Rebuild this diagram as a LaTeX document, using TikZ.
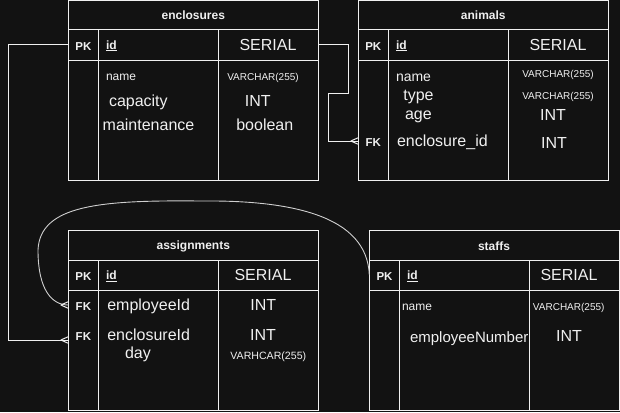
\documentclass[tikz,border=0pt]{standalone}
\usepackage{fontspec}
\setmainfont{Liberation Sans}
\usetikzlibrary{calc}
\definecolor{bg}{HTML}{121212}
\definecolor{fg}{HTML}{F0F0F0}
\tikzset{
  cell/.style={draw=fg, line width=1pt, fill=bg, minimum width=250pt, inner sep=0pt, outer sep=0pt, anchor=north west},
  lbl/.style={text=fg, inner sep=0pt, outer sep=0pt},
  ttl/.style={lbl, anchor=base, font=\bfseries\fontsize{12}{14}\selectfont},
  key/.style={lbl, anchor=base, font=\bfseries\fontsize{11.5}{14}\selectfont},
  pkid/.style={lbl, anchor=base west, font=\bfseries\fontsize{12}{14}\selectfont},
  fld/.style={lbl, anchor=base west, font=\fontsize{#1}{18}\selectfont},
  typ/.style={lbl, anchor=base, font=\fontsize{#1}{18}\selectfont},
  conn/.style={draw=fg, line width=1pt},
  curv/.style={draw=fg!85!bg, line width=0.9pt},
  crowfoot/.pic={\draw[conn] (-7.5,0) -- (0,-3.3) (-7.5,0) -- (0,3.3);}
}
\begin{document}
\begin{tikzpicture}[x=1pt, y=-1pt]
\useasboundingbox (0,0) rectangle (620,412);
\fill[bg] (0,0) rectangle (620,412);

% ---- enclosures ----
\node[cell, minimum height=29.2pt] (encT) at (68.3,0.8) {};
\node[cell, minimum height=30pt] (encP) at (68.3,30) {};
\node[cell, minimum height=120pt] (encB) at (68.3,60) {};
\draw[conn] (98.5,30) -- (98.5,180) (218.5,30) -- (218.5,180);
\node[ttl] (e0) at (193.3,19.5) {enclosures};
\node[key] (e1) at (83.4,50) {PK};
\node[pkid] (e2) at (106,49) {\underline{id}};
\node[typ=16] (e3) at (268,50) {SERIAL};
\node[fld=12] (e4) at (106,80) {name};
\node[typ=10] (e5) at (263,80) {VARCHAR(255)};
\node[fld=16] (e6) at (109,106) {capacity};
\node[typ=16] (e7) at (257.8,106.7) {INT};
\node[fld=16] (e8) at (102.7,130) {maintenance};
\node[typ=16] (e9) at (264.8,130) {boolean};

% ---- animals ----
\node[cell, minimum height=29.2pt] (anT) at (358.3,0.8) {};
\node[cell, minimum height=30pt] (anP) at (358.3,30) {};
\node[cell, minimum height=120pt] (anB) at (358.3,60) {};
\draw[conn] (388.3,30) -- (388.3,180) (508.3,30) -- (508.3,180);
\node[ttl] (a0) at (483.3,19.5) {animals};
\node[key] (a1) at (373.3,50) {PK};
\node[pkid] (a2) at (396,49) {\underline{id}};
\node[typ=16] (a3) at (558,50) {SERIAL};
\node[fld=14] (a4) at (396,81.7) {name};
\node[typ=10] (a5) at (558,77.3) {VARCHAR(255)};
\node[fld=16] (a6) at (403.3,100) {type};
\node[typ=10] (a7) at (558,99.3) {VARCHAR(255)};
\node[fld=16] (a8) at (405,119.3) {age};
\node[typ=16] (a9) at (553,120) {INT};
\node[key] (a10) at (373.3,146) {FK};
\node[fld=16] (a11) at (397,146) {enclosure\_id};
\node[typ=16] (a12) at (554,148.3) {INT};
\coordinate (anFK) at (358.3,141);

% ---- assignments ----
\node[cell, minimum height=29.3pt] (asT) at (68.3,230.7) {};
\node[cell, minimum height=30pt] (asP) at (68.3,260) {};
\node[cell, minimum height=120pt] (asB) at (68.3,290) {};
\draw[conn] (98.5,260) -- (98.5,410) (218.5,260) -- (218.5,410);
\node[ttl] (s0) at (193.3,249.3) {assignments};
\node[key] (s1) at (83.4,280.7) {PK};
\node[pkid] (s2) at (106,279.5) {\underline{id}};
\node[typ=16] (s3) at (263,280.7) {SERIAL};
\node[key] (s4) at (83.4,310) {FK};
\node[fld=16] (s5) at (107.3,310) {employeeId};
\node[typ=16] (s6) at (263.3,310) {INT};
\node[key] (s7) at (83.4,340) {FK};
\node[fld=16] (s8) at (107.3,340) {enclosureId};
\node[typ=16] (s9) at (263,340) {INT};
\node[fld=16] (s10) at (125,358.3) {day};
\node[typ=10.6] (s11) at (268.3,359) {VARHCAR(255)};
\coordinate (asFK1) at (68.3,305);
\coordinate (asFK2) at (68.3,340);

% ---- staffs ----
\node[cell, minimum height=29.3pt] (stT) at (369.3,230.7) {};
\node[cell, minimum height=30pt] (stP) at (369.3,260) {};
\node[cell, minimum height=120pt] (stB) at (369.3,290) {};
\draw[conn] (399.3,260) -- (399.3,410) (529.3,260) -- (529.3,410);
\node[ttl] (t0) at (494,250) {staffs};
\node[key] (t1) at (384.5,280.3) {PK};
\node[pkid] (t2) at (407,279.5) {\underline{id}};
\node[typ=16] (t3) at (569,280.7) {SERIAL};
\node[fld=12] (t4) at (402,310) {name};
\node[typ=10] (t5) at (568.7,310) {VARCHAR(255)};
\node[fld=15] (t6) at (410,342.7) {employeeNumber};
\node[typ=16] (t7) at (569,341.7) {INT};

% ---- connectors ----
\draw[conn] (encP.east) -- (348.3,45) -- (348.3,93) -- (328.3,93) |- (anFK);
\pic at (anFK) {crowfoot};
\draw[conn] (encP.west) -- (8.3,45) |- (asFK2);
\pic at (asFK2) {crowfoot};
\draw[curv] (stP.west) .. controls (367,215) and (290,200) .. (200,201)
  .. controls (100,200) and (40,205) .. (38,250)
  .. controls (38,290) and (52,305) .. (asFK1);
\pic at (asFK1) {crowfoot};
\end{tikzpicture}
\end{document}
